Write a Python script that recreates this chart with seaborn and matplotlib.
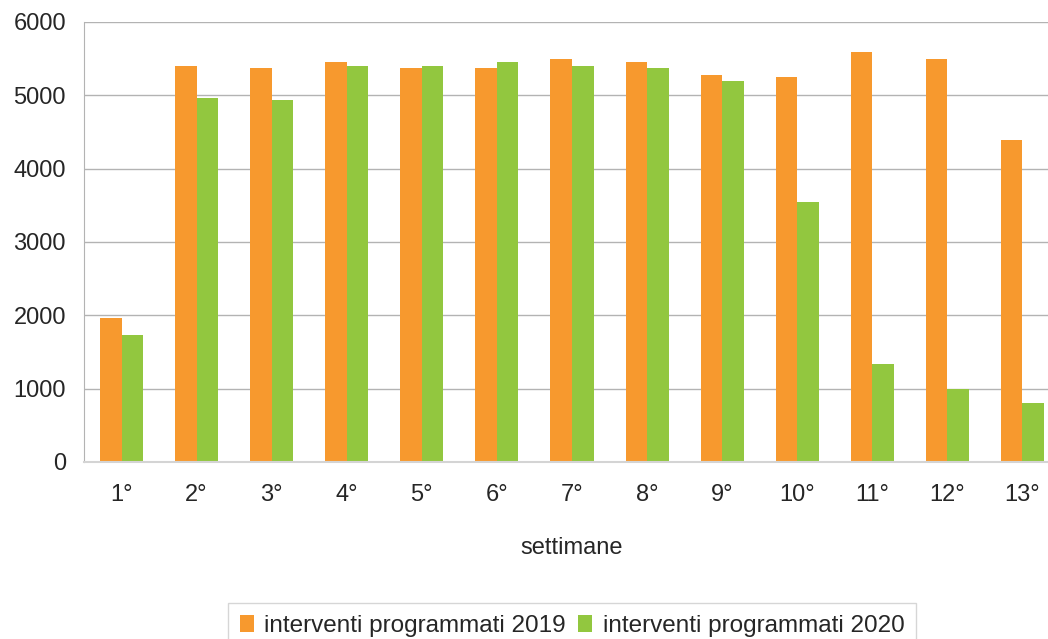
import pandas as pd
import matplotlib.pyplot as plt
import seaborn as sns
from matplotlib.ticker import FixedLocator

weeks = ["1°", "2°", "3°", "4°", "5°", "6°", "7°", "8°", "9°", "10°", "11°", "12°", "13°"]
val_2019 = [1970, 5400, 5370, 5460, 5370, 5370, 5500, 5460, 5280, 5250, 5590, 5500, 4390]
val_2020 = [1730, 4970, 4940, 5400, 5400, 5460, 5400, 5370, 5190, 3550, 1330, 990, 800]
series = ["interventi programmati 2019", "interventi programmati 2020"]
colors = ["#F7992E", "#92C73F"]

df = pd.DataFrame({
    "settimana": weeks * 2,
    "valore": val_2019 + val_2020,
    "serie": [series[0]] * len(weeks) + [series[1]] * len(weeks),
})

sns.set_style("white")
plt.rcParams["font.family"] = ["Liberation Sans", "DejaVu Sans"]

fig = plt.figure(figsize=(10.48, 6.39), dpi=100)
ax = fig.add_axes([84 / 1048, 177 / 639, 976 / 1048, 440 / 639])

sns.barplot(
    data=df, x="settimana", y="valore", hue="serie",
    palette=colors, saturation=1, width=0.573, linewidth=0, ax=ax
)

ax.set_ylim(0, 6000)
ax.set_xlim(-0.5, len(weeks) - 0.5)
ax.set_yticks(range(0, 6001, 1000))
ax.yaxis.grid(True, color="#b3b3b3", linewidth=1)
ax.set_axisbelow(True)

for s in ["top", "right"]:
    ax.spines[s].set_visible(False)
ax.spines["left"].set_color("#b3b3b3")
ax.spines["bottom"].set_color("#d4d4d4")
ax.spines["bottom"].set_linewidth(1.5)

ax.tick_params(axis="y", length=3, color="#b3b3b3", labelsize=17, pad=10)
ax.tick_params(axis="x", which="major", length=0, labelsize=17, pad=16)
ax.xaxis.set_minor_locator(FixedLocator([i - 0.5 for i in range(len(weeks) + 1)]))
ax.tick_params(axis="x", which="minor", length=6, color="#c8c8c8", width=1)

ax.set_xlabel("settimane", fontsize=17, labelpad=22)
ax.set_ylabel("")

ax.get_legend().remove()
handles, labels = ax.get_legend_handles_labels()
fig.legend(
    handles, labels, loc="lower center", bbox_to_anchor=(0.546, -0.035),
    ncol=2, fontsize=17.5, frameon=True, fancybox=False, edgecolor="#cccccc",
    handlelength=0.55, handleheight=0.7, handletextpad=0.45, columnspacing=0.5,
    borderpad=0.5
)

plt.savefig("out.png", dpi=100)
plt.close()
